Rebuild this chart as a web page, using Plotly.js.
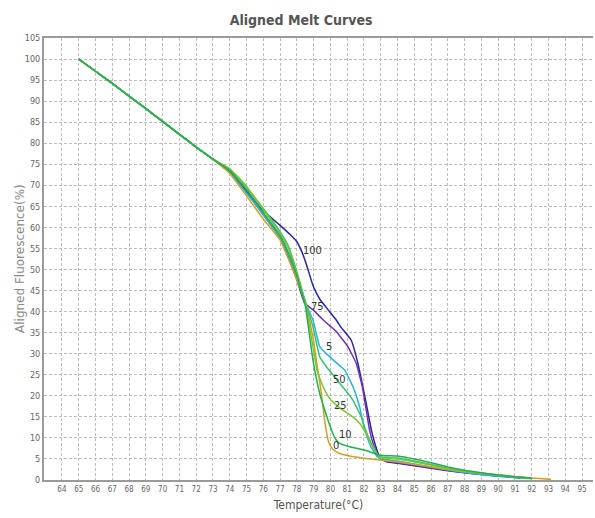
<!DOCTYPE html>
<html>
<head>
<meta charset="utf-8">
<script src="https://cdn.plot.ly/plotly-3.0.1.min.js"></script>
<style>html,body{margin:0;padding:0;background:#fff;}#chart{width:595px;height:518px;}</style>
</head>
<body>
<div id="chart"></div>
<script>
// Series labels
const seriesNames = ["100", "75", "5", "0", "50", "25", "10"];

// Shared early part of all curves (temperature °C, aligned fluorescence %)
const commonT = [65, 66, 67, 68, 69, 70, 71, 72, 73];
const commonV = [100, 97.1, 94.2, 91.2, 88.2, 85.2, 82.1, 79.1, 76.2];

// Per-series continuation
const t100 = [74, 75, 76, 76.5, 77, 77.6, 78.0, 78.3, 78.57, 78.96, 79.36, 79.83, 80.35, 80.65, 81.24, 81.64, 81.93, 82.17, 82.44, 82.7, 82.93, 83.35, 84, 85, 86, 87, 88, 89, 90, 91, 91.3];
const v100 = [73.2, 68.6, 64, 62.2, 60.5, 58.3, 56.6, 54.2, 51.2, 46.2, 43, 40.6, 38, 36.2, 33.2, 27.7, 22.2, 17.4, 11.9, 8, 5.5, 4.3, 4.0, 3.4, 2.8, 2.2, 1.7, 1.3, 0.9, 0.6, 0.5];

const t75 = [74, 75, 76, 77, 77.5, 78, 78.46, 79, 79.5, 80, 80.35, 80.7, 81.04, 81.54, 81.9, 82.17, 82.33, 82.6, 82.9, 83.2, 84, 85, 86, 87, 88, 89, 90, 91, 91.8];
const v75 = [73, 68.3, 63, 57.5, 53, 47.5, 42, 40.3, 38.3, 36.5, 35.3, 33.5, 31.7, 27.7, 22.2, 15.8, 11.9, 8, 5.3, 4.6, 4.1, 3.5, 2.9, 2.3, 1.8, 1.4, 1.0, 0.7, 0.4];

const t5 = [74, 75, 76, 77, 77.5, 78, 78.46, 78.96, 79.36, 79.95, 80.4, 80.85, 81.34, 81.74, 82.04, 82.4, 82.8, 83, 84, 85, 86, 87, 88, 89, 90, 91, 92];
const v5 = [73, 68.2, 63, 57.5, 53.5, 48, 42.5, 38, 31.7, 29.3, 27.7, 26.1, 22.2, 17.4, 11.9, 8, 5.5, 5.1, 4.5, 3.8, 3.1, 2.4, 1.8, 1.3, 0.9, 0.6, 0.3];

const t0 = [74, 75, 76, 77, 77.5, 78, 78.5, 78.76, 79.0, 79.16, 79.46, 79.65, 79.86, 80.0, 80.15, 80.35, 80.55, 81.14, 82.13, 82.93, 84, 85, 86, 87, 88, 89, 90, 91, 92, 93.15];
const v0 = [72.8, 67.5, 62, 57, 52.5, 47.5, 42.5, 38, 33, 28.5, 20.6, 14.3, 9.5, 8.1, 7.3, 6.7, 6.3, 5.7, 5.1, 4.75, 4.3, 3.7, 3.1, 2.5, 2.0, 1.6, 1.2, 0.8, 0.5, 0.15];

const t50 = [74, 75, 76, 77, 77.5, 78, 78.5, 78.96, 79.36, 79.76, 80.15, 80.55, 81, 81.34, 81.84, 82.1, 82.4, 82.8, 83, 84, 85, 86, 87, 88, 89, 90, 91, 92];
const v50 = [73.8, 69.5, 64.5, 59, 55.5, 49.5, 42.5, 36.4, 29.3, 26.9, 25, 23, 20.8, 19, 15, 11.9, 9, 6, 5.5, 5.2, 4.5, 3.7, 2.8, 2.1, 1.6, 1.1, 0.7, 0.4];

const t25 = [74, 75, 76, 77, 77.5, 78, 78.5, 78.96, 79.2, 79.56, 79.95, 80.35, 80.74, 81.34, 81.74, 82.0, 82.33, 82.6, 82.83, 83, 84, 85, 86, 87, 88, 89, 90, 91, 92];
const v25 = [74, 69.8, 64.2, 58.5, 55, 49, 42, 31.7, 26, 22.2, 19.4, 17.8, 16.6, 15, 13.5, 12, 9.5, 7.5, 5.9, 5.3, 5.0, 4.3, 3.5, 2.7, 2.1, 1.6, 1.2, 0.8, 0.45];

const t10 = [74, 75, 76, 77, 77.5, 78, 78.5, 78.96, 79.36, 79.85, 80.15, 80.35, 80.55, 81.14, 82.13, 82.93, 84, 85, 86, 87, 88, 89, 90, 91, 92];
const v10 = [73.5, 69, 63.5, 58, 54, 48.5, 41.5, 28.5, 20.6, 14.3, 11, 9.5, 8.7, 7.9, 7, 5.9, 5.7, 5.0, 4.1, 3.1, 2.3, 1.7, 1.2, 0.8, 0.4];

// Curve label positions (temperature, fluorescence)
const labelT = [78.94, 79.24, 79.89, 80.31, 80.55, 80.61, 80.9];
const labelV = [54.6, 41.1, 31.6, 8.1, 23.8, 17.8, 10.9];

// Axis ticks
const xTicks = [64,65,66,67,68,69,70,71,72,73,74,75,76,77,78,79,80,81,82,83,84,85,86,87,88,89,90,91,92,93,94,95];
const yTicks = [0,5,10,15,20,25,30,35,40,45,50,55,60,65,70,75,80,85,90,95,100,105];

const colors = ["#26279c", "#7030b0", "#2cb4d6", "#d2a02a", "#3cbf78", "#7cc62e", "#22b04e"];
const seriesT = [t100, t75, t5, t0, t50, t25, t10];
const seriesV = [v100, v75, v5, v0, v50, v25, v10];

const traces = seriesNames.map((name, i) => ({
  type: "scatter",
  mode: "lines",
  name: name,
  x: commonT.concat(seriesT[i]),
  y: commonV.concat(seriesV[i]),
  line: {color: colors[i], width: 1.5, shape: "spline", smoothing: 0.3},
  hoverinfo: "skip"
}));

const annotations = seriesNames.map((name, i) => ({
  x: labelT[i], y: labelV[i], xref: "x", yref: "y",
  text: name, showarrow: false,
  font: {family: "DejaVu Sans Condensed, DejaVu Sans", size: 11, color: "#333"}
}));

annotations.push({
  x: 0, y: 0.5, xref: "paper", yref: "paper",
  xanchor: "center", yanchor: "middle", xshift: -24,
  textangle: -90, showarrow: false,
  text: "Aligned Fluorescence(%)",
  font: {family: "DejaVu Sans", size: 12, color: "#888"}
});

const NARROW = "DejaVu Sans Condensed, Liberation Sans Narrow, Roboto, sans-serif";

const layout = {
  width: 595, height: 518,
  margin: {l: 44, r: 2, t: 38, b: 38},
  paper_bgcolor: "#fff", plot_bgcolor: "#fff",
  showlegend: false,
  title: {
    text: "<b>Aligned Melt Curves</b>",
    x: 0.506, xref: "container", xanchor: "center",
    y: 0.962, yref: "container", yanchor: "middle",
    font: {family: NARROW, size: 14, color: "#555"}
  },
  xaxis: {
    range: [62.93, 95.65],
    tickvals: xTicks,
    ticktext: xTicks.map(String),
    showgrid: true, gridcolor: "#bdbdbd", griddash: "3px,2px", gridwidth: 1,
    zeroline: false,
    showline: true, linecolor: "#9a9a9a", linewidth: 2, mirror: true,
    ticks: "", ticklen: 0,
    tickfont: {family: NARROW, size: 8, color: "#666"},
    title: {text: "Temperature(°C)", standoff: 8,
      font: {family: NARROW, size: 12, color: "#555"}}
  },
  yaxis: {
    range: [0, 105],
    tickvals: yTicks,
    showgrid: true, gridcolor: "#bdbdbd", griddash: "3px,2px", gridwidth: 1,
    zeroline: false,
    showline: true, linecolor: "#9a9a9a", linewidth: 2,
    ticks: "", ticklen: 0,
    tickfont: {family: NARROW, size: 9, color: "#666"}
  },
  annotations: annotations
};

Plotly.newPlot("chart", traces, layout, {displayModeBar: false, staticPlot: true});
</script>
</body>
</html>
